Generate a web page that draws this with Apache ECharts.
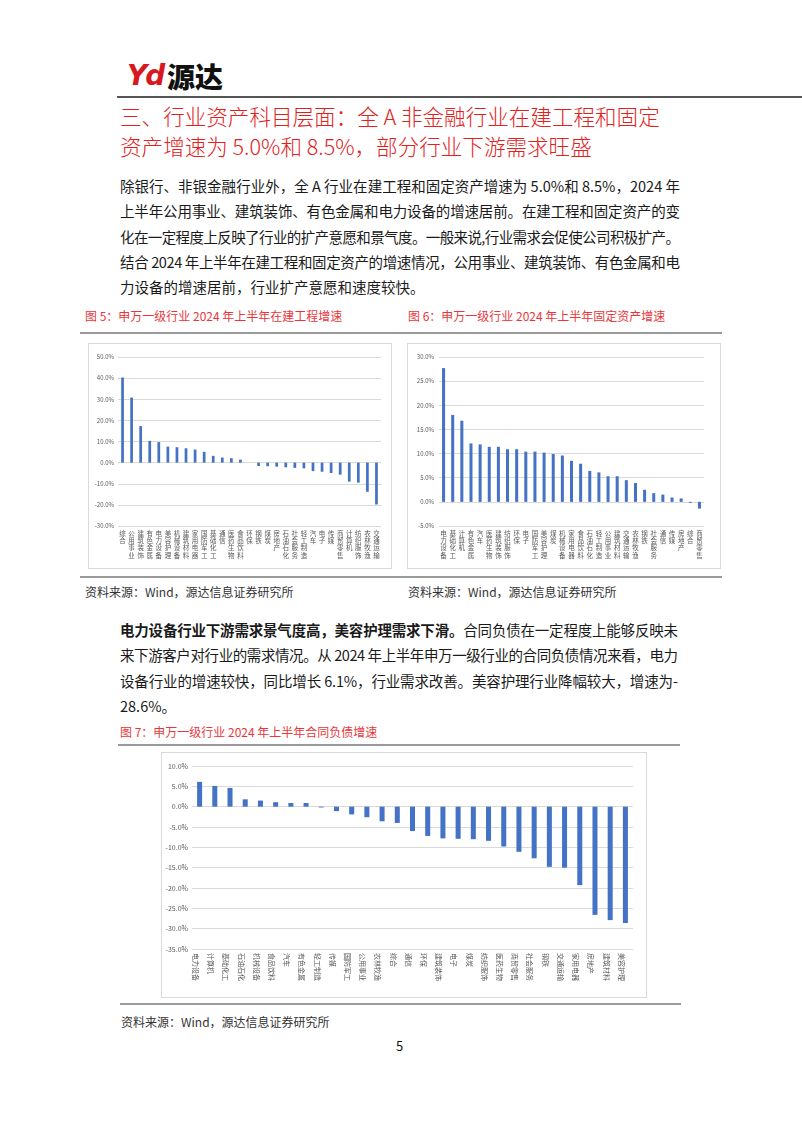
<!DOCTYPE html>
<html>
<head>
<meta charset="utf-8">
<script src="https://cdn.jsdelivr.net/npm/echarts@6/dist/echarts.min.js"></script>
<style>
  html,body{margin:0;padding:0;background:#fff;}
  #page{position:relative;width:802px;height:1133px;overflow:hidden;background:#fff;font-family:"Noto Sans CJK SC","Noto Sans",sans-serif;color:#1a1a1a;}
  .abs{position:absolute;white-space:nowrap;}
  .line{position:absolute;background:#9a9a9a;height:2px;}
  .para div{height:25.3px;line-height:25.3px;font-size:14.5px;white-space:nowrap;}
  .cap{position:absolute;font-size:12px;line-height:16px;color:#e8373c;white-space:nowrap;}
  .src{position:absolute;font-size:12px;line-height:16px;color:#333;white-space:nowrap;}
  .box{position:absolute;border:1px solid #d9d9d9;box-sizing:border-box;}
</style>
</head>
<body>
<div id="page">
  <div class="abs" style="left:127px;top:59px;font-size:28px;line-height:34px;font-weight:900;font-style:italic;color:#d7191f;font-family:'DejaVu Sans',sans-serif;letter-spacing:-2px;">Yd</div>
  <div class="abs" style="left:167px;top:59px;font-size:28px;line-height:34px;font-weight:900;color:#111;">源达</div>
  <div class="line" style="left:117px;top:96px;width:690px;height:2px;background:#555;"></div>
  <div id="title" class="abs" style="left:120px;top:101px;font-size:21.5px;line-height:30px;color:#e3211c;font-weight:300;">
    <div id="t1">三、行业资产科目层面：全 A 非金融行业在建工程和固定</div>
    <div>资产增速为 5.0%和 8.5%，部分行业下游需求旺盛</div>
  </div>

  <div class="para abs" style="left:120px;top:173px;" data-w="560">
    <div class="j">除银行、非银金融行业外，全 A 行业在建工程和固定资产增速为 5.0%和 8.5%，2024 年</div>
    <div class="j">上半年公用事业、建筑装饰、有色金属和电力设备的增速居前。在建工程和固定资产的变</div>
    <div class="j">化在一定程度上反映了行业的扩产意愿和景气度。一般来说,行业需求会促使公司积极扩产。</div>
    <div class="j">结合 2024 年上半年在建工程和固定资产的增速情况，公用事业、建筑装饰、有色金属和电</div>
    <div>力设备的增速居前，行业扩产意愿和速度较快。</div>
  </div>

  <div class="cap" style="left:85px;top:308px;">图 5：申万一级行业 2024 年上半年在建工程增速</div>
  <div class="cap" style="left:408px;top:308px;">图 6：申万一级行业 2024 年上半年固定资产增速</div>
  <div class="line" style="left:80px;top:332px;width:642px;"></div>

  <div class="box" style="left:88px;top:343px;width:304px;height:226px;"></div>
  <div id="c1" class="abs" style="left:88px;top:343px;width:304px;height:226px;"></div>
  <div class="box" style="left:407px;top:343px;width:314px;height:226px;"></div>
  <div id="c2" class="abs" style="left:407px;top:343px;width:314px;height:226px;"></div>

  <div class="line" style="left:80px;top:576px;width:642px;"></div>
  <div class="src" style="left:85px;top:584px;">资料来源：Wind，源达信息证券研究所</div>
  <div class="src" style="left:408px;top:584px;">资料来源：Wind，源达信息证券研究所</div>

  <div class="para abs" style="left:120px;top:617px;" data-w="558">
    <div class="j"><b>电力设备行业下游需求景气度高，美容护理需求下滑。</b>合同负债在一定程度上能够反映未</div>
    <div class="j">来下游客户对行业的需求情况。从 2024 年上半年申万一级行业的合同负债情况来看，电力</div>
    <div class="j">设备行业的增速较快，同比增长 6.1%，行业需求改善。美容护理行业降幅较大，增速为-</div>
    <div>28.6%。</div>
  </div>

  <div class="cap" style="left:120px;top:724px;">图 7：申万一级行业 2024 年上半年合同负债增速</div>
  <div class="line" style="left:118px;top:744px;width:562px;"></div>

  <div class="box" style="left:161px;top:752px;width:486px;height:246px;"></div>
  <div id="c3" class="abs" style="left:161px;top:752px;width:486px;height:246px;"></div>

  <div class="line" style="left:120px;top:1003px;width:561px;"></div>
  <div class="src" style="left:121px;top:1014px;">资料来源：Wind，源达信息证券研究所</div>
  <div class="abs" style="left:396px;top:1037px;font-size:13px;line-height:18px;color:#111;">5</div>
</div>

<script>
// ---- Data ----
const cat1 = ['综合','公用事业','建筑装饰','有色金属','电力设备','美容护理','机械设备','建筑材料','家用电器','国防军工','基础化工','通信','医药生物','食品饮料','环保','钢铁','煤炭','房地产','石油石化','社会服务','轻工制造','汽车','电子','传媒','商贸零售','计算机','纺织服饰','农林牧渔','交通运输'];
const val1 = [40.3,30.8,17.3,10.3,9.7,7.6,7.3,6.8,6.2,5.1,3.2,2.4,2.1,1.4,0.0,-1.6,-1.7,-1.9,-2.2,-2.5,-2.7,-4.0,-4.3,-4.9,-5.7,-9.0,-9.5,-13.8,-19.8];

const cat2 = ['电力设备','基础化工','计算机','有色金属','汽车','医药生物','建筑装饰','纺织服饰','环保','电子','国防军工','美容护理','煤炭','机械设备','家用电器','食品饮料','石油石化','轻工制造','公用事业','建筑材料','交通运输','农林牧渔','钢铁','社会服务','通信','传媒','房地产','综合','商贸零售'];
const val2 = [27.7,18.0,16.8,12.1,11.9,11.4,11.4,10.9,10.9,10.4,10.4,10.2,9.9,9.6,8.5,7.9,6.4,6.1,5.3,5.3,4.5,3.9,2.5,1.8,1.5,0.9,0.7,-0.2,-1.4];

const cat3 = ['电力设备','计算机','基础化工','石油石化','机械设备','食品饮料','汽车','有色金属','轻工制造','传媒','国防军工','公用事业','农林牧渔','综合','通信','环保','建筑装饰','电子','煤炭','纺织服饰','医药生物','商贸零售','社会服务','钢铁','交通运输','家用电器','房地产','建筑材料','美容护理'];
const val3 = [6.1,5.1,4.6,1.8,1.5,1.1,0.9,0.9,-0.2,-1.1,-1.9,-2.6,-3.6,-4.0,-6.0,-7.2,-7.8,-7.9,-8.0,-8.4,-9.8,-11.1,-12.7,-14.8,-15.0,-19.3,-26.6,-27.9,-28.6];

const yAxis1 = {min:-30, max:50, interval:10};
const yAxis2 = {min:-5, max:30, interval:5};
const yAxis3 = {min:-35, max:10, interval:5};

// ---- text fitting (justify each line to the column width) ----
function natWidth(el){
  const d = el.style.display; el.style.display='inline-block';
  const w = el.getBoundingClientRect().width; el.style.display = d; return w;
}
(function(){
  const t1 = document.getElementById('t1');
  const tw = natWidth(t1);
  const title = document.getElementById('title');
  const fs = 21.5 * 540 / tw;
  title.style.fontSize = fs.toFixed(2)+'px';
  document.querySelectorAll('.para').forEach(p=>{
    const W = +p.dataset.w;
    p.querySelectorAll('div.j').forEach(d=>{
      const w = natWidth(d);
      const n = d.textContent.length;
      d.style.letterSpacing = ((W - w)/(n-1)).toFixed(3)+'px';
    });
  });
})();

const FONT = '"Noto Sans CJK SC", sans-serif';
const BLUE = '#4472C4';

function makeOption(cats, vals, ya, o){
  return {
    animation:false,
    grid:{left:o.left, right:o.right, top:o.top, bottom:o.bottom, containLabel:false},
    xAxis:{
      type:'category', data:cats,
      axisLine:{show:false, onZero:false},
      axisTick:{show:false},
      axisLabel:{
        interval:0, fontSize:o.lf, color:'#595959', fontFamily:FONT, margin:o.lm,
        lineHeight:o.lh, verticalAlign:'top',
        rotate:o.rot||0,
        formatter: o.rot ? (v=>v) : (v=>v.split('').join('\n'))
      }
    },
    yAxis:{
      type:'value', min:ya.min, max:ya.max, interval:ya.interval,
      axisLine:{show:false}, axisTick:{show:false},
      splitLine:{lineStyle:{color:'#d9d9d9', width:1}},
      axisLabel:{fontSize:o.yf, color:'#595959', fontFamily:FONT, margin:o.ym,
        formatter: v => v.toFixed(1)+'%'}
    },
    series:[{type:'bar', data:vals, barWidth:o.bw, itemStyle:{color:BLUE}}]
  };
}

echarts.init(document.getElementById('c1'), null, {renderer:'canvas'}).setOption(
  makeOption(cat1, val1, yAxis1, {left:30, right:11, top:14, bottom:43, lf:6.5, lh:7.2, lm:4, yf:6, ym:4, bw:'30%'}));
echarts.init(document.getElementById('c2'), null, {renderer:'canvas'}).setOption(
  makeOption(cat2, val2, yAxis2, {left:32, right:17, top:14, bottom:43, lf:6.5, lh:7.2, lm:4, yf:6, ym:5, bw:'33%'}));
echarts.init(document.getElementById('c3'), null, {renderer:'canvas'}).setOption(
  makeOption(cat3, val3, yAxis3, {left:31, right:14, top:14, bottom:49, lf:7, lh:8, lm:4, yf:7, ym:4, bw:'33%', rot:-90}));
</script>
</body>
</html>
